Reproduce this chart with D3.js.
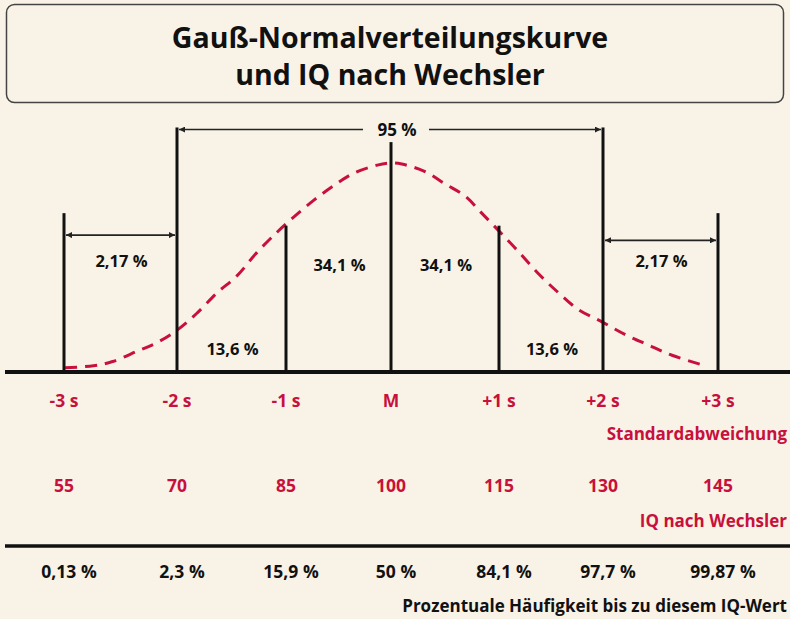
<!DOCTYPE html>
<html>
<head>
<meta charset="utf-8">
<script src="https://cdn.jsdelivr.net/npm/d3@7"></script>
<style>
  html, body { margin: 0; padding: 0; background: #f9f3e7; }
  svg { display: block; font-family: "Open Sans", "Noto Sans", sans-serif; font-weight: 700; }
</style>
</head>
<body>
<svg width="790" height="619"></svg>
<script>
// Daten
var sigmaSteps = [-3, -2, -1, 0, 1, 2, 3];
var sigmaLabels = ["-3 s", "-2 s", "-1 s", "M", "+1 s", "+2 s", "+3 s"];
var iqValues = ["55", "70", "85", "100", "115", "130", "145"];
var cumPercent = ["0,13 %", "2,3 %", "15,9 %", "50 %", "84,1 %", "97,7 %", "99,87 %"];
// Höhe der senkrechten Linien (relativ zum Kurvengipfel)
var lineHeights = [0.76, 1.17, 0.70, 1.10, 0.70, 1.17, 0.76];

// Flächenanteile zwischen den Linien
var areaLabels = ["2,17 %", "13,6 %", "34,1 %", "34,1 %", "13,6 %", "2,17 %"];
var areaLabelLevel = [0.53, 0.11, 0.51, 0.51, 0.11, 0.53];

var curveX = [-2.99, -2.74, -2.57, -2.35, -2.18, -2.0, -1.82, -1.63, -1.45, -1.27, -1.08, -0.93, -0.74, -0.55, -0.36, -0.13, 0,
              0.10, 0.31, 0.50, 0.69, 0.84, 0.99, 1.18, 1.38, 1.57, 1.76, 1.99, 2.19, 2.39, 2.60, 2.89];
var curveY = [0.02, 0.03, 0.05, 0.10, 0.14, 0.20, 0.28, 0.38, 0.46, 0.57, 0.67, 0.74, 0.82, 0.89, 0.95, 0.99, 1.0,
              0.995, 0.96, 0.90, 0.84, 0.76, 0.68, 0.58, 0.47, 0.38, 0.30, 0.24, 0.18, 0.13, 0.08, 0.03];

var red = "#c8103c",
    ink = "#111";

var svg = d3.select("svg");

// Skalen: die Abstände der Linien sind im Original leicht ungleich
var x = d3.scaleLinear().domain(sigmaSteps).range([64, 177, 286, 391, 499, 603, 718]);
var y = d3.scaleLinear().domain([0, 1]).range([372, 163]);

// Pfeilspitzen
var defs = svg.append("defs");
defs.append("marker")
    .attr("id", "pfeil")
    .attr("viewBox", "0 0 10 10")
    .attr("refX", 10).attr("refY", 5)
    .attr("markerWidth", 8).attr("markerHeight", 6)
    .attr("markerUnits", "userSpaceOnUse")
    .attr("orient", "auto-start-reverse")
    .append("path")
    .attr("d", "M0,0L10,5L0,10z")
    .attr("fill", "#222");

// Titelkasten
svg.append("rect")
    .attr("x", 6.5).attr("y", 4.5)
    .attr("width", 777).attr("height", 98)
    .attr("rx", 8)
    .attr("fill", "#f9f3e7")
    .attr("stroke", "#444")
    .attr("stroke-width", 1.5);

svg.append("text")
    .attr("x", 390).attr("y", 48)
    .attr("text-anchor", "middle")
    .attr("font-size", 28.5)
    .attr("fill", ink)
    .text("Gauß-Normalverteilungskurve");
svg.append("text")
    .attr("x", 390).attr("y", 85)
    .attr("text-anchor", "middle")
    .attr("font-size", 28.5)
    .attr("fill", ink)
    .text("und IQ nach Wechsler");

// Kurve
var line = d3.line()
    .x(function (d, i) { return x(d); })
    .y(function (d, i) { return y(curveY[i]); })
    .curve(d3.curveCatmullRom);

svg.append("path")
    .datum(curveX)
    .attr("d", line)
    .attr("fill", "none")
    .attr("stroke", red)
    .attr("stroke-width", 3)
    .attr("stroke-dasharray", "12,8");

// senkrechte Linien
svg.selectAll(".sline")
    .data(sigmaSteps)
    .enter().append("line")
    .attr("class", "sline")
    .attr("x1", function (d) { return x(d); })
    .attr("x2", function (d) { return x(d); })
    .attr("y1", y(0))
    .attr("y2", function (d, i) { return y(lineHeights[i]); })
    .attr("stroke", ink)
    .attr("stroke-width", 3);

// Grundlinie
svg.append("line")
    .attr("x1", 5).attr("x2", 790)
    .attr("y1", y(0)).attr("y2", y(0))
    .attr("stroke", ink)
    .attr("stroke-width", 4);

// Pfeile 2,17 %
function arrow(x1, x2, yy) {
    svg.append("line")
        .attr("x1", x1).attr("x2", x2)
        .attr("y1", yy).attr("y2", yy)
        .attr("stroke", "#222")
        .attr("stroke-width", 1.6)
        .attr("marker-start", "url(#pfeil)")
        .attr("marker-end", "url(#pfeil)");
}
arrow(x(-3) + 2, x(-2) - 2, y(0.655));
arrow(x(2) + 2, x(3) - 2, y(0.63));

// 95 %-Pfeil mit Lücke für die Beschriftung
var y95 = y(1.16);
svg.append("line")
    .attr("x1", x(-2) + 2).attr("x2", 363)
    .attr("y1", y95).attr("y2", y95)
    .attr("stroke", "#222").attr("stroke-width", 1.6)
    .attr("marker-start", "url(#pfeil)");
svg.append("line")
    .attr("x1", 429).attr("x2", x(2) - 2)
    .attr("y1", y95).attr("y2", y95)
    .attr("stroke", "#222").attr("stroke-width", 1.6)
    .attr("marker-end", "url(#pfeil)");
svg.append("text")
    .attr("x", x(0) + 6).attr("y", y95 + 6)
    .attr("text-anchor", "middle")
    .attr("font-size", 17)
    .attr("fill", ink)
    .text("95 %");

// Flächenbeschriftungen
svg.selectAll(".area")
    .data(areaLabels)
    .enter().append("text")
    .attr("class", "area")
    .attr("x", function (d, i) { return (x(sigmaSteps[i]) + x(sigmaSteps[i + 1])) / 2 + 1; })
    .attr("y", function (d, i) { return y(areaLabelLevel[i]) + 6; })
    .attr("text-anchor", "middle")
    .attr("font-size", 16.5)
    .attr("fill", ink)
    .text(function (d) { return d; });

// Zeilen unten
function row(labels, yy, color, dx) {
    svg.append("g").selectAll("text")
        .data(labels)
        .enter().append("text")
        .attr("x", function (d, i) { return x(sigmaSteps[i]) + dx; })
        .attr("y", yy)
        .attr("text-anchor", "middle")
        .attr("font-size", 17.5)
        .attr("fill", color)
        .text(function (d) { return d; });
}
row(sigmaLabels, 407, red, 0);
row(iqValues, 492, red, 0);
row(cumPercent, 578, ink, 5);

function caption(txt, yy, color) {
    svg.append("text")
        .attr("x", 787).attr("y", yy)
        .attr("text-anchor", "end")
        .attr("font-size", 17)
        .attr("fill", color)
        .text(txt);
}
caption("Standardabweichung", 440, red);
caption("IQ nach Wechsler", 527, red);
caption("Prozentuale Häufigkeit bis zu diesem IQ-Wert", 612, ink);

svg.append("line")
    .attr("x1", 5).attr("x2", 790)
    .attr("y1", 546).attr("y2", 546)
    .attr("stroke", ink)
    .attr("stroke-width", 3.5);
</script>
</body>
</html>
